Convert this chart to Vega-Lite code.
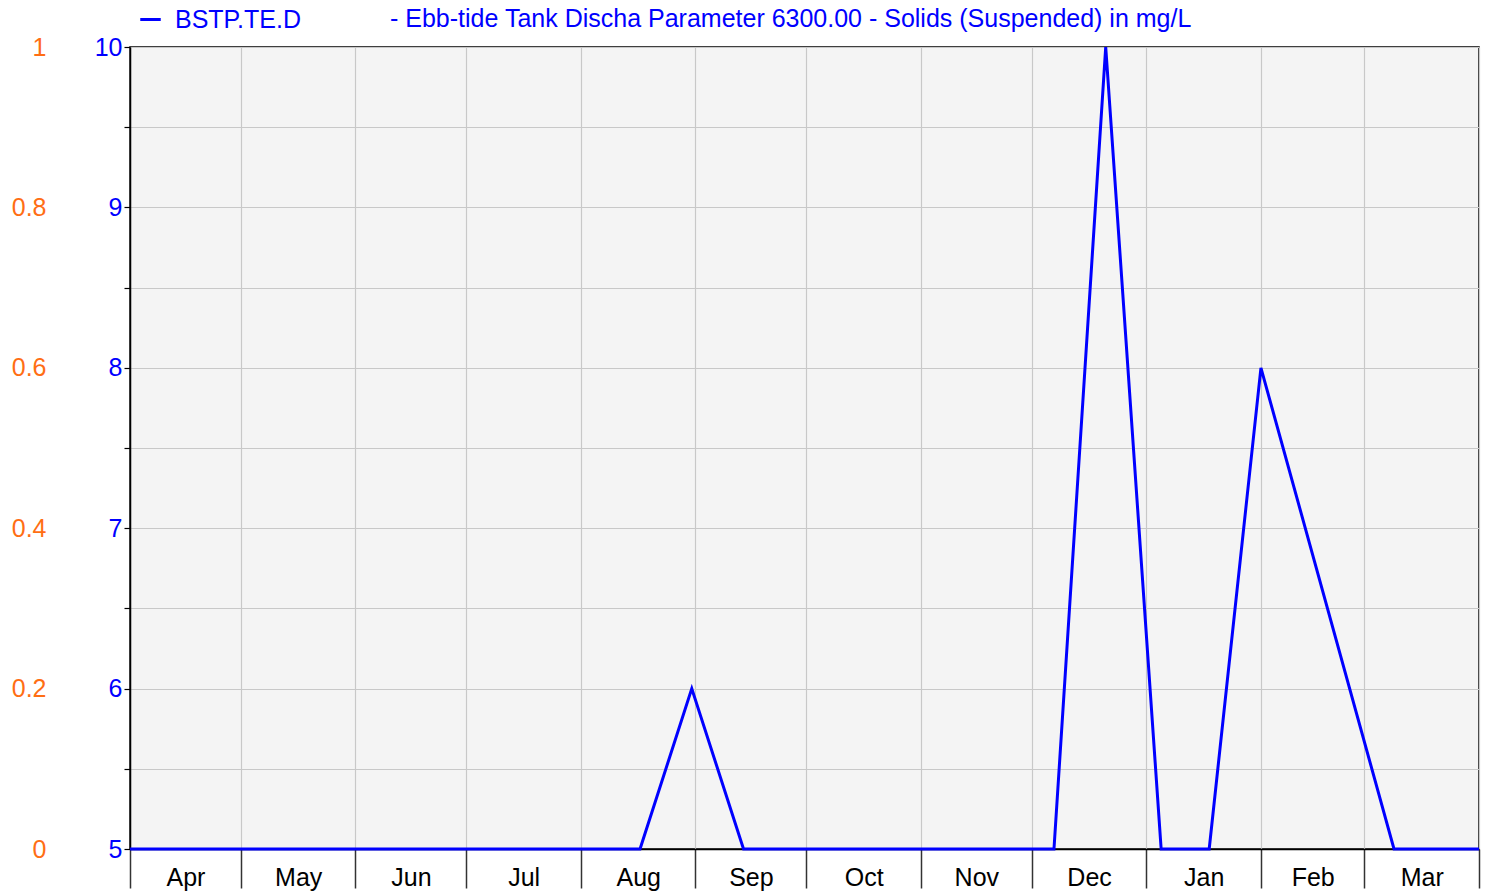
{
  "$schema": "https://vega.github.io/schema/vega-lite/v6.json",
  "width": 1349,
  "height": 802,
  "autosize": "none",
  "padding": {"left": 130, "top": 47, "right": 9, "bottom": 45},
  "background": "white",
  "config": {
    "font": "Liberation Sans",
    "view": {"fill": "#f4f4f4", "stroke": "#000000", "strokeWidth": 1.5}
  },
  "title": {
    "text": "- Ebb-tide Tank Discha Parameter 6300.00 - Solids (Suspended) in mg/L",
    "anchor": "start",
    "frame": "group",
    "dx": 260,
    "offset": -45,
    "baseline": "alphabetic",
    "fontSize": 25,
    "fontWeight": "normal",
    "color": "#0000ff",
    "font": "Liberation Sans"
  },
  "data": {
    "values": [
      {"date": "2022-04-01", "value": 5},
      {"date": "2022-08-17", "value": 5},
      {"date": "2022-08-31", "value": 6},
      {"date": "2022-09-14", "value": 5},
      {"date": "2022-12-07", "value": 5},
      {"date": "2022-12-21", "value": 10},
      {"date": "2023-01-05", "value": 5},
      {"date": "2023-01-18", "value": 5},
      {"date": "2023-02-01", "value": 8},
      {"date": "2023-03-09", "value": 5},
      {"date": "2023-04-01", "value": 5}
    ]
  },
  "layer": [
    {
      "mark": {"type": "line", "strokeWidth": 3, "clip": false},
      "encoding": {
        "x": {
          "field": "date",
          "type": "temporal",
          "scale": {"type": "utc", "domain": [{"year": 2022, "month": 4, "date": 1, "utc": true}, {"year": 2023, "month": 4, "date": 1, "utc": true}], "nice": false},
          "axis": {
            "orient": "bottom",
            "title": null,
            "values": [
              {"year": 2022, "month": 4, "date": 1, "utc": true},
              {"year": 2022, "month": 5, "date": 1, "utc": true},
              {"year": 2022, "month": 6, "date": 1, "utc": true},
              {"year": 2022, "month": 7, "date": 1, "utc": true},
              {"year": 2022, "month": 8, "date": 1, "utc": true},
              {"year": 2022, "month": 9, "date": 1, "utc": true},
              {"year": 2022, "month": 10, "date": 1, "utc": true},
              {"year": 2022, "month": 11, "date": 1, "utc": true},
              {"year": 2022, "month": 12, "date": 1, "utc": true},
              {"year": 2023, "month": 1, "date": 1, "utc": true},
              {"year": 2023, "month": 2, "date": 1, "utc": true},
              {"year": 2023, "month": 3, "date": 1, "utc": true},
              {"year": 2023, "month": 4, "date": 1, "utc": true}
            ],
            "labels": false,
            "ticks": true,
            "tickSize": 39,
            "tickColor": "#333333",
            "tickWidth": 1.5,
            "domain": true,
            "domainColor": "#000000",
            "domainWidth": 1.5,
            "grid": true,
            "gridColor": "#c8c8c8",
            "gridWidth": 1.2
          }
        },
        "y": {
          "field": "value",
          "type": "quantitative",
          "scale": {"domain": [5, 10], "nice": false, "zero": false},
          "axis": {
            "orient": "left",
            "title": null,
            "values": [5, 5.5, 6, 6.5, 7, 7.5, 8, 8.5, 9, 9.5, 10],
            "format": "~g",
            "labelExpr": "datum.value % 1 == 0 ? datum.label : ''",
            "labelColor": "#0000ff",
            "labelFontSize": 25,
            "labelPadding": 2,
            "labelFont": "Liberation Sans",
            "tickSize": 6,
            "tickColor": "#000000",
            "tickWidth": 1.2,
            "domain": true,
            "domainColor": "#000000",
            "domainWidth": 1.5,
            "grid": true,
            "gridColor": "#c8c8c8",
            "gridWidth": 1.2
          }
        },
        "color": {
          "datum": "BSTP.TE.D",
          "type": "nominal",
          "scale": {"range": ["#0000ff"]},
          "legend": {
            "title": null,
            "orient": "none",
            "legendX": 8,
            "legendY": -40,
            "padding": 0,
            "symbolType": "stroke",
            "symbolStrokeWidth": 3,
            "symbolSize": 420,
            "labelFontSize": 25,
            "labelColor": "#0000ff",
            "labelFont": "Liberation Sans",
            "labelOffset": 12
          }
        }
      }
    },
    {
      "mark": {"type": "rule", "opacity": 0},
      "encoding": {
        "x": {
          "field": "date",
          "type": "temporal",
          "axis": {
            "orient": "bottom",
            "title": null,
            "values": [
              {"year": 2022, "month": 4, "date": 16, "utc": true},
              {"year": 2022, "month": 5, "date": 16, "hours": 12, "utc": true},
              {"year": 2022, "month": 6, "date": 16, "utc": true},
              {"year": 2022, "month": 7, "date": 16, "hours": 12, "utc": true},
              {"year": 2022, "month": 8, "date": 16, "hours": 12, "utc": true},
              {"year": 2022, "month": 9, "date": 16, "utc": true},
              {"year": 2022, "month": 10, "date": 16, "hours": 12, "utc": true},
              {"year": 2022, "month": 11, "date": 16, "utc": true},
              {"year": 2022, "month": 12, "date": 16, "hours": 12, "utc": true},
              {"year": 2023, "month": 1, "date": 16, "hours": 12, "utc": true},
              {"year": 2023, "month": 2, "date": 15, "utc": true},
              {"year": 2023, "month": 3, "date": 16, "hours": 12, "utc": true}
            ],
            "format": "%b",
            "ticks": false,
            "domain": false,
            "grid": false,
            "labelFontSize": 25,
            "labelColor": "#000000",
            "labelFont": "Liberation Sans",
            "labelPadding": 16
          }
        },
        "y": {
          "datum": 0,
          "type": "quantitative",
          "scale": {"domain": [0, 1], "nice": false},
          "axis": {
            "orient": "left",
            "title": null,
            "offset": 84,
            "values": [0, 0.2, 0.4, 0.6, 0.8, 1],
            "format": "~g",
            "labelColor": "#ff6e14",
            "labelFontSize": 25,
            "labelFont": "Liberation Sans",
            "labelPadding": 0,
            "ticks": false,
            "domain": false,
            "grid": false
          }
        }
      }
    }
  ],
  "resolve": {
    "scale": {"y": "independent"},
    "axis": {"x": "independent", "y": "independent"}
  }
}
